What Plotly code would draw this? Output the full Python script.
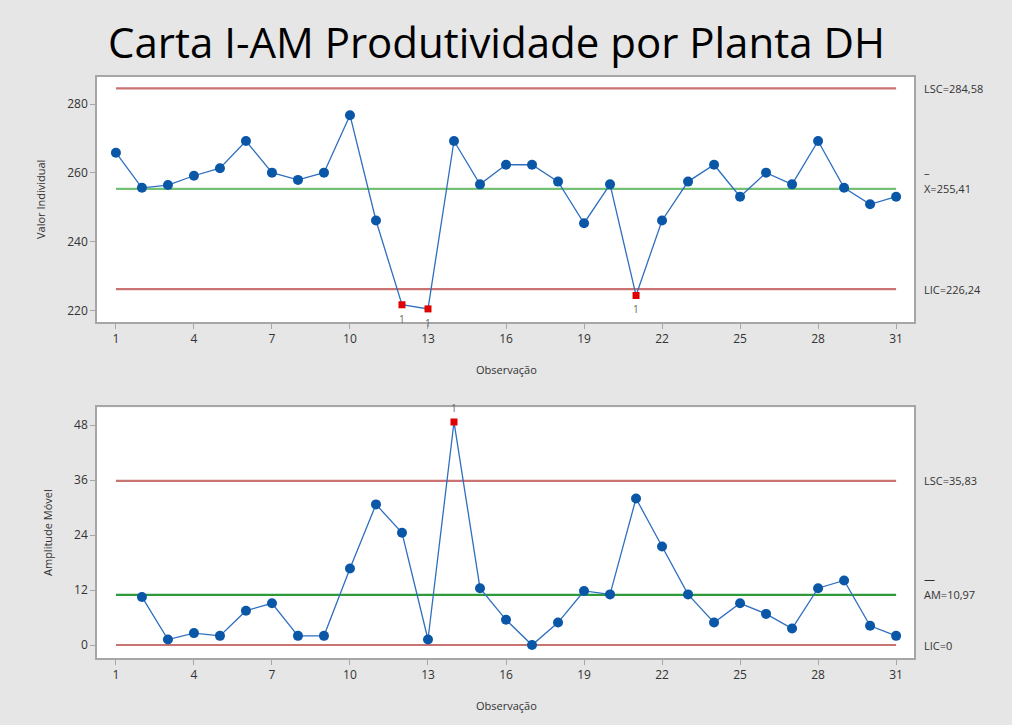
import plotly.graph_objects as go

obs = list(range(1, 32))
valor_individual = [265.9, 255.7, 256.5, 259.2, 261.4, 269.3, 260.1, 258.0, 260.1, 276.8,
                    246.2, 221.7, 220.5, 269.3, 256.7, 262.4, 262.4, 257.5, 245.4, 256.7,
                    224.4, 246.2, 257.5, 262.4, 253.1, 260.1, 256.7, 269.3, 255.7, 250.9,
                    253.1]
amp_obs = list(range(2, 32))
amplitude_movel = [10.5, 1.2, 2.6, 2.0, 7.5, 9.1, 2.0, 2.0, 16.7, 30.7,
                   24.5, 1.2, 48.7, 12.4, 5.5, 0.0, 4.9, 11.8, 11.05, 32.0,
                   21.5, 11.05, 4.9, 9.1, 6.8, 3.6, 12.4, 14.1, 4.2, 2.0]
fora_i = [12, 13, 21]
fora_am = [14]

lsc_i, media_i, lic_i = 284.58, 255.41, 226.24
lsc_am, media_am, lic_am = 35.83, 10.97, 0

x_ticks = [1, 4, 7, 10, 13, 16, 19, 22, 25, 28, 31]
y_ticks_i = [220, 240, 260, 280]
y_ticks_am = [0, 12, 24, 36, 48]

AZUL = '#0a57a8'
VERMELHO_LIM = '#c97373'
VERDE_I = '#74c074'
VERDE_AM = '#2f9a3a'
TXT = '#333333'
FONTE = 'Open Sans'

fig = go.Figure()


def add_carta(x, y, fora, lims, cores_lim, xa, ya, acima):
    for val, cor in zip(lims, cores_lim):
        fig.add_trace(go.Scatter(x=[1, 31], y=[val, val], mode='lines',
                                 line=dict(color=cor, width=2.2),
                                 xaxis=xa, yaxis=ya, showlegend=False, hoverinfo='skip'))
    cores = ['#e00000' if o in fora else AZUL for o in x]
    simb = ['square' if o in fora else 'circle' for o in x]
    tam = [7 if o in fora else 10 for o in x]
    fig.add_trace(go.Scatter(x=x, y=y, mode='lines+markers',
                             line=dict(color='#2e6fbf', width=1.3),
                             marker=dict(color=cores, size=tam, symbol=simb, opacity=1,
                                         line=dict(width=0)),
                             xaxis=xa, yaxis=ya, showlegend=False))
    for o in fora:
        fig.add_annotation(x=o, y=y[x.index(o)], xref=xa, yref=ya, text='1', showarrow=False,
                           yshift=14 if acima else -14,
                           font=dict(family=FONTE, size=10, color='#666666'))


add_carta(obs, valor_individual, fora_i, [lsc_i, media_i, lic_i],
          [VERMELHO_LIM, VERDE_I, VERMELHO_LIM], 'x', 'y', False)
add_carta(amp_obs, amplitude_movel, fora_am, [lsc_am, media_am, lic_am],
          [VERMELHO_LIM, VERDE_AM, VERMELHO_LIM], 'x2', 'y2', True)

eixo = dict(showgrid=False, zeroline=False, showline=True, linecolor='#a6a6a6', linewidth=1.5,
            mirror=True, ticks='outside', ticklen=5, tickcolor='#a6a6a6',
            tickfont=dict(family=FONTE, size=12, color=TXT))

fig.update_layout(
    width=1012, height=725,
    margin=dict(l=0, r=0, t=0, b=0),
    paper_bgcolor='#e6e6e6',
    plot_bgcolor='white',
    xaxis=dict(eixo, domain=[0.0958, 0.9032], range=[0.27, 31.69], tickvals=x_ticks, anchor='y'),
    yaxis=dict(eixo, domain=[0.5559, 0.8938], range=[216.7, 287.9], tickvals=y_ticks_i, anchor='x'),
    xaxis2=dict(eixo, domain=[0.0958, 0.9032], range=[0.27, 31.69], tickvals=x_ticks, anchor='y2'),
    yaxis2=dict(eixo, domain=[0.092, 0.4382], range=[-2.9, 51.9], tickvals=y_ticks_am, anchor='x2'),
)

# titulo e rotulos
fig.add_annotation(text='Carta I-AM Produtividade por Planta DH', xref='paper', yref='paper',
                   x=496 / 1012, y=1 - 42 / 725, xanchor='center', yanchor='middle', showarrow=False,
                   font=dict(family=FONTE, size=42, color='black'))
rot = dict(xref='paper', yref='paper', showarrow=False, xanchor='center', yanchor='middle',
           font=dict(family=FONTE, size=11, color=TXT))
fig.add_annotation(rot, text='Observação', x=0.5, y=1 - 369 / 725)
fig.add_annotation(rot, text='Observação', x=0.5, y=1 - 705 / 725)
fig.add_annotation(rot, text='Valor Individual', x=40 / 1012, y=1 - 200 / 725, textangle=-90)
fig.add_annotation(rot, text='Amplitude Móvel', x=47 / 1012, y=1 - 533 / 725, textangle=-90)

dir_ = dict(xref='paper', showarrow=False, xanchor='left', yanchor='middle', x=922 / 1012,
            font=dict(family=FONTE, size=11, color=TXT))
fig.add_annotation(dir_, text='LSC=284,58', y=lsc_i, yref='y')
fig.add_annotation(dir_, text='X=255,41', y=media_i, yref='y')
fig.add_annotation(dir_, text='–', y=media_i, yref='y', yshift=16)
fig.add_annotation(dir_, text='LIC=226,24', y=lic_i, yref='y')
fig.add_annotation(dir_, text='LSC=35,83', y=lsc_am, yref='y2')
fig.add_annotation(dir_, text='AM=10,97', y=media_am, yref='y2')
fig.add_annotation(dir_, text='—', y=media_am, yref='y2', yshift=16)
fig.add_annotation(dir_, text='LIC=0', y=lic_am, yref='y2')

fig.write_html("out.html", config={'displayModeBar': False},
               post_script="document.body.style.margin='0';")
